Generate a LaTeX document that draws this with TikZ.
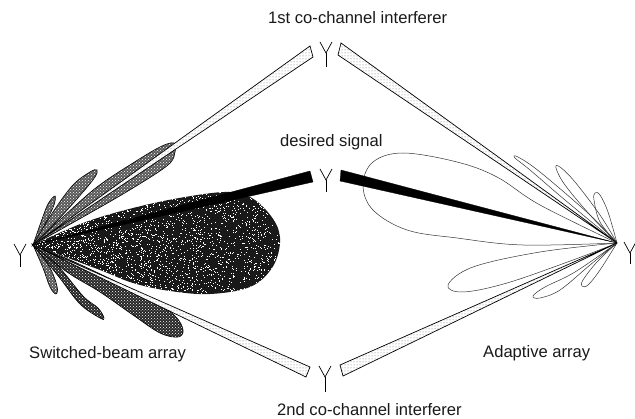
\documentclass[tikz,border=0pt]{standalone}
\usepackage{fontspec}
\setmainfont{Liberation Sans}
\usetikzlibrary{patterns}

\begin{document}
\begin{tikzpicture}[
    x=1pt, y=-1pt,
    label/.style={font=\fontsize{16.6}{20}\selectfont, inner sep=0pt, anchor=west, text=black!90},
    aerial/.style={draw=black, line width=0.7pt},
    midlobe/.style={draw=black, line width=0.6pt, preaction={fill=black!65}, pattern=crosshatch dots, pattern color=white},
    darklobe/.style={draw=black, line width=0.6pt, preaction={fill=black!85}, pattern=crosshatch dots, pattern color=white},
    openlobe/.style={draw=black!80, line width=0.5pt},
    beam/.style={draw=black, line width=0.7pt, preaction={fill=white}, pattern=dots, pattern color=black!55},
    darkbeam/.style={draw=black, fill=black, line width=0.3pt}
]
\useasboundingbox (0,0) rectangle (635,419);

\coordinate (left) at (33,245);
\coordinate (right) at (617,243);

% switched-beam pattern
\fill[black!90] plot[smooth, tension=0.6] coordinates {(left) (83,223) (133,208) (185,197) (230,192) (255,200) (275,222) (280,243) (272,268) (250,287) (210,294) (170,291) (133,283) (100,270) (left)} -- cycle;
\begin{scope}
  \clip plot[smooth, tension=0.6] coordinates {(left) (83,223) (133,208) (185,197) (230,192) (255,200) (275,222) (280,243) (272,268) (250,287) (210,294) (170,291) (133,283) (100,270) (left)} -- cycle;
  \pgfmathsetseed{7}
  \foreach \n in {1,...,3000} {
    \pgfmathsetmacro{\dotx}{33+250*rnd^1.3}
    \pgfmathsetmacro{\doty}{190+105*rnd}
    \fill[white] (\dotx,\doty) rectangle +(0.9,0.9);
  }
\end{scope}
\draw[midlobe] plot[smooth, tension=0.6] coordinates {(left) (41,222) (48,204) (55,196) (54,205) (47,220) (37,240) (left)} -- cycle;
\draw[midlobe] plot[smooth, tension=0.6] coordinates {(left) (53,212) (73,185) (90,172) (97,170) (95,177) (83,192) (58,220) (left)} -- cycle;
\draw[midlobe] plot[smooth, tension=0.6] coordinates {(left) (63,217) (97,187) (133,163) (160,147) (174,143) (175,152) (168,165) (133,188) (90,213) (left)} -- cycle;
\draw[midlobe] plot[smooth, tension=0.6] coordinates {(left) (43,268) (50,287) (56,294) (57,286) (49,266) (left)} -- cycle;
\draw[darklobe] plot[smooth, tension=0.6] coordinates {(left) (59,277) (80,304) (100,318) (104,318) (98,308) (83,296) (58,266) (left)} -- cycle;
\draw[darklobe] plot[smooth, tension=0.6] coordinates {(left) (67,272) (100,292) (133,315) (160,333) (178,337) (183,330) (175,316) (150,298) (117,282) (70,260) (left)} -- cycle;

% adaptive pattern
\draw[openlobe] plot[smooth, tension=0.6] coordinates {(right) (540,205) (497,177) (457,162) (403,153) (373,162) (363,185) (373,210) (407,230) (457,238) (523,245) (right)};
\draw[openlobe] plot[smooth, tension=0.6] coordinates {(right) (540,252) (473,267) (448,285) (463,292) (507,283) (573,260) (right)};
\draw[openlobe] plot[smooth, tension=0.6] coordinates {(right) (565,200) (530,170) (515,158) (518,157) (540,172) (590,215) (right)};
\draw[openlobe] plot[smooth, tension=0.6] coordinates {(right) (590,215) (565,185) (556,168) (560,167) (575,182) (600,215) (right)};
\draw[openlobe] plot[smooth, tension=0.6] coordinates {(right) (600,222) (594,200) (595,193) (600,195) (608,212) (right)};
\draw[openlobe] plot[smooth, tension=0.6] coordinates {(right) (575,272) (545,287) (533,296) (540,298) (560,290) (590,265) (right)};
\draw[openlobe] plot[smooth, tension=0.6] coordinates {(right) (597,262) (583,280) (582,286) (588,285) (600,270) (right)};

% beams
\foreach \apex/\ax/\ay/\bx/\by in {left/310/46/313/57, right/341/43/338/55, left/310/367/306/377, right/340/365/343/376} {
  \draw[beam] (\apex) -- (\ax,\ay) -- (\bx,\by) -- cycle;
}
\foreach \apex/\ax/\ay/\bx/\by in {left/310/171/313/182, right/341/170/340/181} {
  \draw[darkbeam] (\apex) -- (\ax,\ay) -- (\bx,\by) -- cycle;
}

% antennas
\foreach \x/\y/\h in {326/53/14, 326/180/12, 325/377/15, 20/255/12, 630/253/11} {
  \draw[aerial] (\x-6,\y-11) -- (\x,\y) -- (\x+6,\y-11);
  \draw[aerial] (\x,\y) -- (\x,\y+\h);
}

\node[label] (first) at (268,18) {1st co-channel interferer};
\node[label] (desired) at (280,142) {desired signal};
\node[label] (second) at (277,410) {2nd co-channel interferer};
\node[label] (switched) at (29,354) {Switched-beam array};
\node[label] (adaptive) at (483,353) {Adaptive array};

\end{tikzpicture}
\end{document}
